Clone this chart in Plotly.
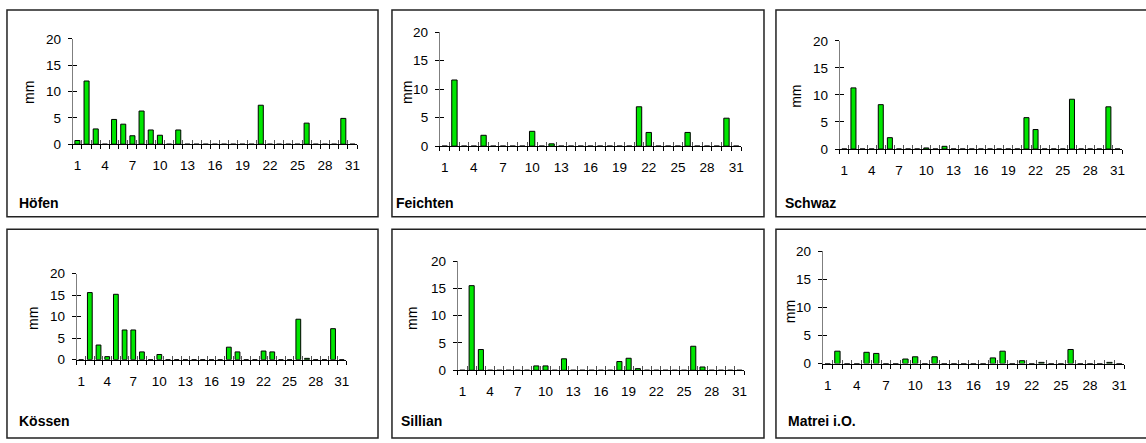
import plotly.graph_objects as go

# ---------------- data ----------------
days = list(range(1, 32))
tick_days = [1, 4, 7, 10, 13, 16, 19, 22, 25, 28, 31]
stations = ["Höfen", "Feichten", "Schwaz", "Kössen", "Sillian", "Matrei i.O."]

hoefen = [0.7, 12.0, 2.9, 0, 4.7, 3.8, 1.6, 6.3, 2.7, 1.7, 0, 2.7, 0, 0, 0, 0,
          0, 0, 0, 0, 7.4, 0, 0, 0, 0, 4.0, 0, 0, 0, 4.9, 0]
feichten = [0, 11.6, 0, 0, 1.9, 0, 0, 0, 0, 2.6, 0, 0.4, 0, 0, 0, 0,
            0, 0, 0, 0, 6.9, 2.4, 0, 0, 0, 2.4, 0, 0, 0, 4.9, 0]
schwaz = [0, 11.3, 0, 0, 8.2, 2.1, 0, 0, 0, 0.2, 0, 0.5, 0, 0, 0, 0,
          0, 0, 0, 0, 5.8, 3.6, 0, 0, 0, 9.2, 0, 0, 0, 7.8, 0]
koessen = [0, 15.6, 3.4, 0.7, 15.2, 6.9, 6.9, 1.8, 0, 1.2, 0, 0, 0, 0, 0, 0,
           0, 2.9, 1.8, 0, 0, 2.0, 1.8, 0, 0, 9.4, 0.3, 0, 0, 7.2, 0]
sillian = [0, 15.5, 3.8, 0, 0, 0, 0, 0, 0.8, 0.8, 0, 2.1, 0, 0, 0, 0,
           0, 1.6, 2.2, 0.3, 0, 0, 0, 0, 0, 4.4, 0.6, 0, 0, 0, 0]
matrei = [0, 2.2, 0, 0, 2.0, 1.8, 0, 0, 0.8, 1.2, 0, 1.2, 0, 0, 0, 0,
          0, 1.0, 2.2, 0, 0.5, 0, 0.2, 0, 0, 2.5, 0, 0, 0, 0.2, 0]
series = [hoefen, feichten, schwaz, koessen, sillian, matrei]
y_ticks = [0, 5, 10, 15, 20]

# ---------------- layout geometry (pixels) ----------------
W, H = 1146, 443
plot_areas = [(73, 358, 33, 142), (441, 743, 26, 144), (842, 1125, 35, 147),
              (77, 347, 276, 365), (459, 746, 263, 376), (825, 1127, 253, 369)]
boxes = [(7, 379, 3, 217), (393, 766, 3, 217), (778, 1152, 3, 217),
         (7, 379, 230, 446), (393, 766, 230, 446), (778, 1152, 230, 446)]
mm_pos = [(29, 88), (408, 88), (798, 92), (33, 322), (413, 322), (792, 315)]
title_pos = [(17, 203), (395, 203), (785, 203), (17, 428), (400, 428), (788, 428)]

FONT = "Arial, Liberation Sans, sans-serif"
GREEN = "#00e600"

fig = go.Figure()
layout = dict(
    width=W, height=H, margin=dict(l=0, r=0, t=0, b=0),
    paper_bgcolor="white", plot_bgcolor="white",
    showlegend=False, bargap=0.45,
    font=dict(family=FONT, size=13.5, color="black"),
)
shapes, annotations = [], []

def px(x):
    return x / W

def py(y):
    return 1 - y / H

for i, (name, vals) in enumerate(zip(stations, series)):
    n = i + 1
    ov = i + 7
    x0, x1, yt, yb = plot_areas[i]
    xa, ya = f"xaxis{n}", f"yaxis{n}"
    xo, yo = f"xaxis{ov}", f"yaxis{ov}"
    fig.add_trace(go.Bar(
        x=days, y=vals, xaxis=f"x{n}", yaxis=f"y{n}",
        marker=dict(color=GREEN, line=dict(color="black", width=1)),
        hoverinfo="x+y",
    ))
    # empty traces so overlay axes (inner half of crossing ticks) get drawn
    fig.add_trace(go.Scatter(x=[], y=[], xaxis=f"x{ov}", yaxis=f"y{n}", hoverinfo="skip"))
    fig.add_trace(go.Scatter(x=[], y=[], xaxis=f"x{n}", yaxis=f"y{ov}", hoverinfo="skip"))

    layout[xa] = dict(
        domain=[px(x0), px(x1)], anchor=f"y{n}", range=[0.5, 31.5],
        tickmode="array", tickvals=tick_days, ticktext=[str(d) for d in tick_days],
        ticks="outside", ticklen=4, tickcolor="rgba(0,0,0,0)",
        minor=dict(tick0=0.5, dtick=1, ticks="outside", ticklen=4,
                   tickcolor="black", tickwidth=1, showgrid=False),
        showline=True, linecolor="black", linewidth=1,
        showgrid=False, zeroline=False, fixedrange=True,
        ticklabelstandoff=5, tickfont=dict(size=13.5, family=FONT),
    )
    layout[xo] = dict(
        overlaying=f"x{n}", anchor=f"y{n}", range=[0.5, 31.5],
        tickmode="linear", tick0=0.5, dtick=1, ticks="inside", ticklen=4,
        tickcolor="#555", tickwidth=1, showticklabels=False,
        showline=False, showgrid=False, zeroline=False, fixedrange=True,
    )
    layout[ya] = dict(
        domain=[py(yb), py(yt)], anchor=f"x{n}", range=[0, 20],
        tickmode="array", tickvals=y_ticks,
        ticks="outside", ticklen=4, tickcolor="black",
        showline=True, linecolor="#7f7f7f", linewidth=1,
        showgrid=False, zeroline=False, fixedrange=True,
        ticklabelstandoff=4, tickfont=dict(size=13.5, family=FONT),
    )
    layout[yo] = dict(
        overlaying=f"y{n}", anchor=f"x{n}", range=[0, 20],
        tickmode="array", tickvals=y_ticks, ticks="inside", ticklen=4,
        tickcolor="black", showticklabels=False,
        showline=False, showgrid=False, zeroline=False, fixedrange=True,
    )

    bx0, bx1, by0, by1 = boxes[i]
    shapes.append(dict(type="rect", xref="paper", yref="paper",
                       x0=px(bx0), x1=px(bx1), y0=py(by1), y1=py(by0),
                       line=dict(color="#222", width=1.5), layer="below"))
    mx, my = mm_pos[i]
    annotations.append(dict(text="mm", xref="paper", yref="paper",
                            x=px(mx), y=py(my), showarrow=False, textangle=-90,
                            xanchor="center", yanchor="middle",
                            font=dict(size=14, family=FONT)))
    tx, ty = title_pos[i]
    annotations.append(dict(text=f"<b>{name}</b>", xref="paper", yref="paper",
                            x=px(tx), y=py(ty), showarrow=False,
                            xanchor="left", yanchor="middle",
                            font=dict(size=14, family=FONT)))

layout["shapes"] = shapes
layout["annotations"] = annotations
fig.update_layout(**layout)
fig.write_html("out.html")
